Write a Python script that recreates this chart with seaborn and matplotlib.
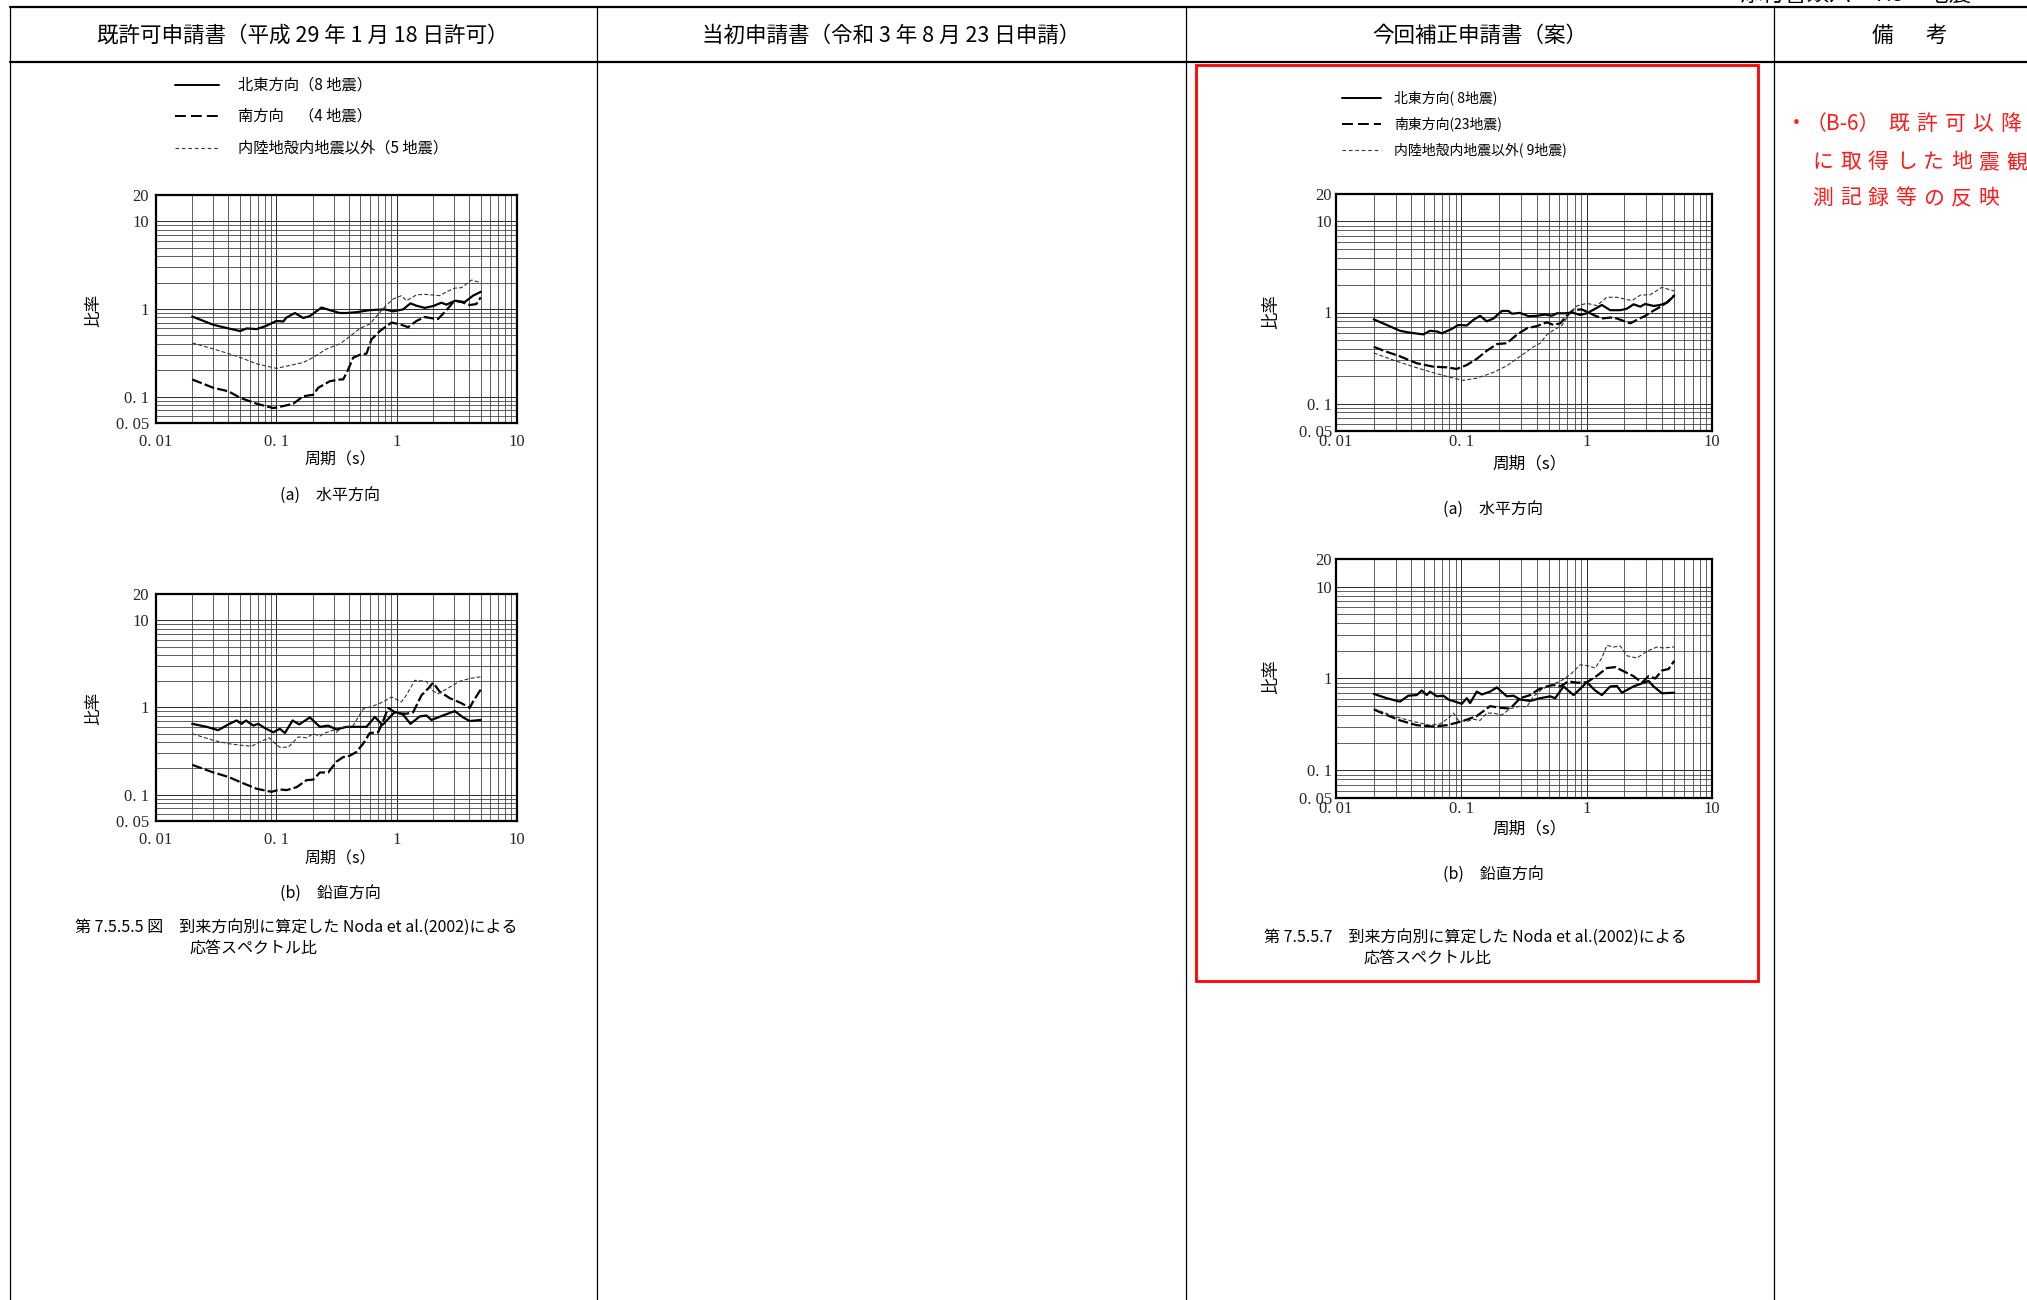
import matplotlib
matplotlib.use("Agg")
import matplotlib.pyplot as plt
import seaborn as sns
from matplotlib.lines import Line2D
from matplotlib.patches import Rectangle
from matplotlib.ticker import NullFormatter, LogLocator

sns.set_style("white")
plt.rcParams["font.family"] = ["Noto Sans CJK JP", "DejaVu Sans"]

# ---------------- data: response spectral ratios (period [s] -> ratio) ----------------
# 既許可申請書 (a) 水平方向
prior_h_ne_T = [0.02, 0.03, 0.04, 0.05, 0.0566, 0.0686, 0.0819, 0.1, 0.114, 0.1216, 0.1427, 0.1673, 0.19, 0.2375,
                0.2785, 0.3373, 0.383, 0.4637, 0.5983, 0.797, 0.9348, 1.131, 1.302, 1.46, 1.713, 2.008, 2.355, 2.592,
                3.04, 3.679, 4.314, 5.0]
prior_h_ne_R = [0.82, 0.66, 0.60, 0.56, 0.60, 0.59, 0.64, 0.73, 0.72, 0.80, 0.90, 0.79, 0.83, 1.04, 0.97, 0.90, 0.90,
                0.92, 0.97, 0.99, 0.94, 0.99, 1.16, 1.09, 1.03, 1.08, 1.18, 1.12, 1.24, 1.20, 1.42, 1.57]
prior_h_s_T = [0.02, 0.03, 0.04, 0.05, 0.0686, 0.0943, 0.114, 0.1382, 0.1673, 0.2025, 0.2227, 0.2785, 0.3373, 0.3594,
               0.3954, 0.435, 0.4942, 0.5613, 0.6178, 0.7244, 0.9054, 1.062, 1.245, 1.46, 1.713, 2.008, 2.21, 2.592,
               3.04, 3.452, 4.048, 4.598, 5.0]
prior_h_s_R = [0.157, 0.126, 0.115, 0.097, 0.083, 0.074, 0.078, 0.083, 0.101, 0.105, 0.126, 0.150, 0.157, 0.157,
               0.204, 0.278, 0.30, 0.31, 0.45, 0.56, 0.70, 0.67, 0.62, 0.73, 0.81, 0.78, 0.77, 0.97, 1.25, 1.20,
               1.11, 1.14, 1.36]
prior_h_in_T = [0.02, 0.03, 0.04, 0.05, 0.0686, 0.1, 0.1297, 0.1673, 0.2025, 0.2613, 0.3373, 0.3954, 0.4942, 0.5983,
                0.7018, 0.797, 0.9348, 1.096, 1.206, 1.46, 1.713, 2.28, 2.592, 3.04, 3.452, 4.2, 5.0]
prior_h_in_R = [0.41, 0.35, 0.31, 0.28, 0.237, 0.21, 0.227, 0.245, 0.28, 0.35, 0.40, 0.47, 0.60, 0.675, 0.87, 1.06,
                1.30, 1.42, 1.24, 1.45, 1.47, 1.42, 1.57, 1.73, 1.75, 2.14, 2.0]

# 既許可申請書 (b) 鉛直方向
prior_v_ne_T = [0.02, 0.0264, 0.0329, 0.0399, 0.0468, 0.0514, 0.0559, 0.0643, 0.0708, 0.0804, 0.0943, 0.107, 0.1178,
                0.1365, 0.155, 0.19, 0.23, 0.2697, 0.3164, 0.383, 0.5613, 0.6584, 0.7624, 0.965, 1.131, 1.302, 1.556,
                1.768, 1.945, 2.43, 3.04, 3.564, 4.048, 5.0]
prior_v_ne_R = [0.65, 0.60, 0.55, 0.64, 0.71, 0.65, 0.71, 0.62, 0.65, 0.58, 0.52, 0.57, 0.51, 0.71, 0.64, 0.77, 0.60,
                0.62, 0.56, 0.60, 0.60, 0.78, 0.63, 0.89, 0.83, 0.65, 0.79, 0.81, 0.72, 0.81, 0.91, 0.77, 0.70, 0.72]
prior_v_s_T = [0.02, 0.03, 0.04, 0.05, 0.0686, 0.0913, 0.107, 0.1216, 0.1472, 0.1782, 0.2025, 0.23, 0.2697, 0.3164,
               0.3594, 0.4082, 0.4637, 0.5268, 0.5983, 0.7018, 0.7721, 0.8495, 0.996, 1.206, 1.37, 1.607, 1.825,
               2.008, 2.28, 2.762, 3.452, 4.048, 4.314, 5.0]
prior_v_s_R = [0.22, 0.18, 0.16, 0.14, 0.117, 0.108, 0.115, 0.113, 0.122, 0.147, 0.149, 0.18, 0.18, 0.24, 0.27, 0.28,
               0.31, 0.385, 0.51, 0.52, 0.70, 0.99, 0.86, 0.85, 0.88, 1.38, 1.65, 1.92, 1.52, 1.28, 1.12, 0.99, 1.17,
               1.61]
prior_v_in_T = [0.02, 0.03, 0.04, 0.05, 0.0623, 0.0778, 0.0873, 0.1, 0.107, 0.1256, 0.152, 0.1782, 0.2025, 0.23,
                0.253, 0.2969, 0.3164, 0.3482, 0.435, 0.5268, 0.6378, 0.7721, 0.9054, 1.096, 1.206, 1.415, 1.768,
                2.008, 2.21, 2.676, 3.344, 4.048, 5.0]
prior_v_in_R = [0.50, 0.42, 0.385, 0.37, 0.36, 0.42, 0.45, 0.375, 0.35, 0.35, 0.46, 0.45, 0.50, 0.47, 0.51, 0.55,
                0.52, 0.59, 0.62, 0.96, 1.04, 1.16, 1.32, 1.16, 1.39, 2.05, 1.99, 1.54, 1.44, 1.67, 2.0, 2.15, 2.25]

# 今回補正申請書 (a) 水平方向
rev_h_ne_T = [0.02, 0.0254, 0.0324, 0.039, 0.0498, 0.0563, 0.0637, 0.0698, 0.0839, 0.0948, 0.1105, 0.1249, 0.1412,
              0.1596, 0.1805, 0.2103, 0.2378, 0.2528, 0.2947, 0.3435, 0.4004, 0.4666, 0.5275, 0.5782, 0.674, 0.7618,
              0.8881, 1.004, 1.17, 1.322, 1.541, 1.852, 2.094, 2.367, 2.676, 2.934, 3.42, 3.866, 4.37, 5.0]
rev_h_ne_R = [0.84, 0.73, 0.63, 0.60, 0.575, 0.63, 0.62, 0.59, 0.66, 0.73, 0.72, 0.83, 0.92, 0.80, 0.86, 1.04, 1.04,
              0.97, 0.99, 0.91, 0.92, 0.95, 0.92, 0.98, 0.98, 1.00, 0.94, 0.98, 1.10, 1.21, 1.06, 1.06, 1.10, 1.23,
              1.16, 1.24, 1.18, 1.21, 1.28, 1.53]
rev_h_se_T = [0.02, 0.0254, 0.0324, 0.0441, 0.0599, 0.0765, 0.0919, 0.1105, 0.1328, 0.1596, 0.1919, 0.2306, 0.2772,
              0.3331, 0.4004, 0.4811, 0.5439, 0.6149, 0.695, 0.7855, 0.9157, 1.004, 1.134, 1.322, 1.541, 1.742,
              2.227, 2.517, 2.934, 3.42, 3.986, 4.506, 5.0]
rev_h_se_R = [0.42, 0.37, 0.33, 0.277, 0.254, 0.25, 0.24, 0.265, 0.31, 0.38, 0.45, 0.46, 0.57, 0.67, 0.71, 0.78, 0.73,
              0.76, 0.92, 1.07, 1.08, 1.02, 0.94, 0.86, 0.88, 0.86, 0.76, 0.83, 0.92, 1.05, 1.18, 1.34, 1.55]
rev_h_in_T = [0.02, 0.0287, 0.0415, 0.0599, 0.0865, 0.1039, 0.1328, 0.1805, 0.2306, 0.2947, 0.3765, 0.4256, 0.4811,
              0.5439, 0.634, 0.7166, 0.8352, 1.004, 1.206, 1.45, 1.742, 2.296, 2.676, 3.216, 3.986, 5.0]
rev_h_in_R = [0.36, 0.30, 0.254, 0.218, 0.19, 0.18, 0.19, 0.22, 0.26, 0.33, 0.42, 0.46, 0.57, 0.64, 0.72, 0.94, 1.18,
              1.26, 1.19, 1.47, 1.47, 1.35, 1.55, 1.57, 1.89, 1.72]

# 今回補正申請書 (b) 鉛直方向
rev_v_ne_T = [0.02, 0.0254, 0.0324, 0.0378, 0.0441, 0.0483, 0.053, 0.0563, 0.0637, 0.0719, 0.0789, 0.0892, 0.1008,
              0.1105, 0.1175, 0.1328, 0.1456, 0.1697, 0.1919, 0.2306, 0.2606, 0.2947, 0.3541, 0.4256, 0.5116, 0.5608,
              0.6537, 0.7855, 0.861, 1.004, 1.17, 1.322, 1.541, 1.742, 1.91, 2.367, 3.119, 3.42, 3.986, 5.0]
rev_v_ne_R = [0.68, 0.61, 0.56, 0.65, 0.66, 0.74, 0.66, 0.72, 0.64, 0.65, 0.59, 0.56, 0.53, 0.61, 0.54, 0.72, 0.67,
              0.72, 0.80, 0.64, 0.65, 0.59, 0.57, 0.61, 0.64, 0.61, 0.82, 0.66, 0.74, 0.91, 0.74, 0.66, 0.82, 0.83,
              0.70, 0.82, 0.94, 0.82, 0.69, 0.70]
rev_v_se_T = [0.02, 0.0254, 0.0324, 0.0441, 0.0599, 0.0765, 0.0919, 0.1105, 0.1328, 0.1697, 0.2041, 0.2452, 0.2947,
              0.3541, 0.4128, 0.4811, 0.5439, 0.6149, 0.7166, 0.8352, 1.004, 1.206, 1.45, 1.69, 1.969, 2.367, 2.76,
              3.119, 3.526, 3.986, 4.506, 5.0]
rev_v_se_R = [0.46, 0.40, 0.35, 0.31, 0.30, 0.31, 0.33, 0.356, 0.39, 0.50, 0.48, 0.47, 0.61, 0.66, 0.76, 0.82, 0.85,
              0.82, 0.93, 0.90, 0.91, 1.07, 1.30, 1.33, 1.20, 1.06, 0.90, 1.06, 1.00, 1.22, 1.27, 1.56]
rev_v_in_T = [0.02, 0.0287, 0.0415, 0.0563, 0.0677, 0.0789, 0.0865, 0.0948, 0.1105, 0.1249, 0.1412, 0.1596, 0.1805,
              0.2103, 0.2452, 0.2947, 0.3331, 0.3765, 0.4389, 0.5116, 0.6149, 0.7389, 0.8881, 1.035, 1.17, 1.322,
              1.45, 1.639, 1.852, 2.094, 2.517, 3.025, 3.636, 4.11, 5.0]
rev_v_in_R = [0.47, 0.39, 0.34, 0.31, 0.32, 0.37, 0.42, 0.35, 0.34, 0.36, 0.35, 0.42, 0.42, 0.40, 0.47, 0.50, 0.49,
              0.64, 0.76, 0.85, 0.93, 1.10, 1.41, 1.37, 1.30, 1.67, 2.30, 2.20, 2.26, 1.77, 1.67, 1.98, 2.20, 2.15,
              2.21]

# axis ticks
x_ticks = [0.01, 0.1, 1, 10]
x_tick_labels = ["0. 01", "0. 1", "1", "10"]
y_ticks = [0.05, 0.1, 1, 10, 20]
y_tick_labels = ["0. 05", "0. 1", "1", "10", "20"]

# text
column_heads = ["既許可申請書（平成 29 年 1 月 18 日許可）", "当初申請書（令和 3 年 8 月 23 日申請）", "今回補正申請書（案）"]
prior_legend = ["北東方向（8 地震）", "南方向　（4 地震）", "内陸地殻内地震以外（5 地震）"]
rev_legend = ["北東方向( 8地震)", "南東方向(23地震)", "内陸地殻内地震以外( 9地震)"]
prior_caption = ["第 7.5.5.5 図　到来方向別に算定した Noda et al.(2002)による", "応答スペクトル比"]
rev_caption = ["第 7.5.5.7　到来方向別に算定した Noda et al.(2002)による", "応答スペクトル比"]
note_lines = ["既許可以降", "に取得した地震観", "測記録等の反映"]

# ---------------- figure ----------------
W, H = 2027, 1300
fig = plt.figure(figsize=(W / 100, H / 100), dpi=100)
fig.patch.set_facecolor("white")


def fx(x):
    return x / W


def fy(y):
    return 1 - y / H


def put(x, y, s, **kw):
    kw.setdefault("ha", "center")
    kw.setdefault("va", "center")
    kw.setdefault("color", "black")
    fig.text(fx(x), fy(y), s, **kw)


def seg(x0, y0, x1, y1, **kw):
    fig.add_artist(Line2D([fx(x0), fx(x1)], [fy(y0), fy(y1)], transform=fig.transFigure, **kw))


# table frame
seg(10, 7, W, 7, color="black", lw=1.6)
seg(10, 62, W, 62, color="black", lw=1.6)
for xc in (10, 597, 1186, 1774):
    seg(xc, 7, xc, H, color="black", lw=0.9)

# running header at the top right, mostly beyond the page edge
put(1856, 2, "添付書類六　7.5　地震", va="baseline", fontsize=16)

# column headers
for xc, s in zip((303, 891, 1480), column_heads):
    put(xc, 36, s, fontsize=15.5)
put(1882, 36, "備", fontsize=15.5)
put(1936, 36, "考", fontsize=15.5)

# remarks in red
RED = "#ff1a1a"
put(1796, 124, "・", fontsize=15, color=RED)
put(1806, 124, "（B-6）", ha="left", fontsize=15, color=RED)
for i, ch in enumerate(note_lines[0]):
    put(1899 + 28 * i, 124, ch, fontsize=15, color=RED)
for row, yy in ((1, 162), (2, 198)):
    for i, ch in enumerate(note_lines[row]):
        put(1823 + 27.7 * i, yy, ch, fontsize=15, color=RED)

# red frame around the revised figure
fig.add_artist(Rectangle((fx(1196), fy(981)), (1758 - 1196) / W, (981 - 65) / H, transform=fig.transFigure,
                         fill=False, edgecolor="#ff0000", lw=2.0))

STYLE = {
    "ne": dict(color="black", lw=1.6, ls="solid"),
    "s": dict(color="black", lw=1.6, ls=(0, (4.6, 1.4))),
    "in": dict(color="#333333", lw=0.8, ls=(0, (3.6, 1.9))),
}
LEG_STYLE = {
    "ne": dict(color="black", lw=1.4, ls="solid"),
    "s": dict(color="black", lw=1.4, ls=(0, (5.6, 2.6))),
    "in": dict(color="#333333", lw=0.8, ls=(0, (3.2, 2.6))),
}
SERIF = ["Liberation Serif", "DejaVu Serif"]


def panel(box, series, xpad, ypad):
    x0, y0, x1, y1 = box
    ax = fig.add_axes([fx(x0), fy(y1), (x1 - x0) / W, (y1 - y0) / H])
    ax.set_xscale("log")
    ax.set_yscale("log")
    for T, R, key in series:
        st = STYLE[key]
        sns.lineplot(x=T, y=R, ax=ax, estimator=None, sort=False, color=st["color"],
                     linewidth=st["lw"], linestyle=st["ls"], zorder=3)
    ax.set_xlim(0.01, 10)
    ax.set_ylim(0.05, 20)
    ax.set_xticks(x_ticks, labels=x_tick_labels, fontsize=12, fontfamily=SERIF)
    ax.set_yticks(y_ticks, labels=y_tick_labels, fontsize=12, fontfamily=SERIF)
    ax.xaxis.set_minor_locator(LogLocator(base=10, subs=range(2, 10), numticks=30))
    ax.yaxis.set_minor_locator(LogLocator(base=10, subs=range(2, 10), numticks=30))
    ax.xaxis.set_minor_formatter(NullFormatter())
    ax.yaxis.set_minor_formatter(NullFormatter())
    ax.tick_params(which="both", length=0)
    ax.tick_params(axis="x", pad=xpad)
    ax.tick_params(axis="y", pad=ypad)
    ax.set_axisbelow(True)
    ax.grid(True, which="major", color="#2a2a2a", lw=0.7)
    ax.grid(True, which="minor", color="#444444", lw=0.6)
    ax.set_xlabel("")
    ax.set_ylabel("")
    for sp in ax.spines.values():
        sp.set_visible(True)
        sp.set_color("black")
        sp.set_linewidth(1.6)
    return ax


def legend(x_line0, x_line1, x_text, ys, labels, size):
    for key, yy, lab in zip(("ne", "s", "in"), ys, labels):
        st = LEG_STYLE[key]
        seg(x_line0, yy, x_line1, yy, color=st["color"], lw=st["lw"], ls=st["ls"])
        put(x_text, yy, lab, ha="left", fontsize=size)


# 既許可申請書 column
legend(175, 219, 238, (85, 116, 148), prior_legend, 11)
panel((156, 195, 517, 423), [(prior_h_ne_T, prior_h_ne_R, "ne"), (prior_h_s_T, prior_h_s_R, "s"),
                             (prior_h_in_T, prior_h_in_R, "in")], xpad=8, ypad=5)
put(94, 310, "比率", rotation=90, fontsize=12)
put(340, 460, "周期（s）", fontsize=11.5)
put(330, 495, "(a)　水平方向", fontsize=11.5)

panel((156, 594, 517, 821), [(prior_v_ne_T, prior_v_ne_R, "ne"), (prior_v_s_T, prior_v_s_R, "s"),
                             (prior_v_in_T, prior_v_in_R, "in")], xpad=8, ypad=5)
put(94, 708, "比率", rotation=90, fontsize=12)
put(340, 859, "周期（s）", fontsize=11.5)
put(330, 893, "(b)　鉛直方向", fontsize=11.5)

put(75, 927, prior_caption[0], ha="left", fontsize=11.5)
put(189, 948, prior_caption[1], ha="left", fontsize=11.5)

# 今回補正申請書 column
legend(1342, 1381, 1394, (98, 124, 150), rev_legend, 10)
panel((1336, 194, 1712, 431), [(rev_h_ne_T, rev_h_ne_R, "ne"), (rev_h_se_T, rev_h_se_R, "s"),
                               (rev_h_in_T, rev_h_in_R, "in")], xpad=2.5, ypad=3)
put(1271, 312, "比率", rotation=90, fontsize=12.5)
put(1530, 464, "周期（s）", fontsize=12)
put(1493, 509, "(a)　水平方向", fontsize=11.5)

panel((1336, 559, 1712, 798), [(rev_v_ne_T, rev_v_ne_R, "ne"), (rev_v_se_T, rev_v_se_R, "s"),
                               (rev_v_in_T, rev_v_in_R, "in")], xpad=2.5, ypad=3)
put(1271, 677, "比率", rotation=90, fontsize=12.5)
put(1530, 829, "周期（s）", fontsize=12)
put(1493, 874, "(b)　鉛直方向", fontsize=11.5)

put(1264, 937, rev_caption[0], ha="left", fontsize=11.5)
put(1363, 958, rev_caption[1], ha="left", fontsize=11.5)

fig.savefig("out.png", dpi=100, facecolor="white")
